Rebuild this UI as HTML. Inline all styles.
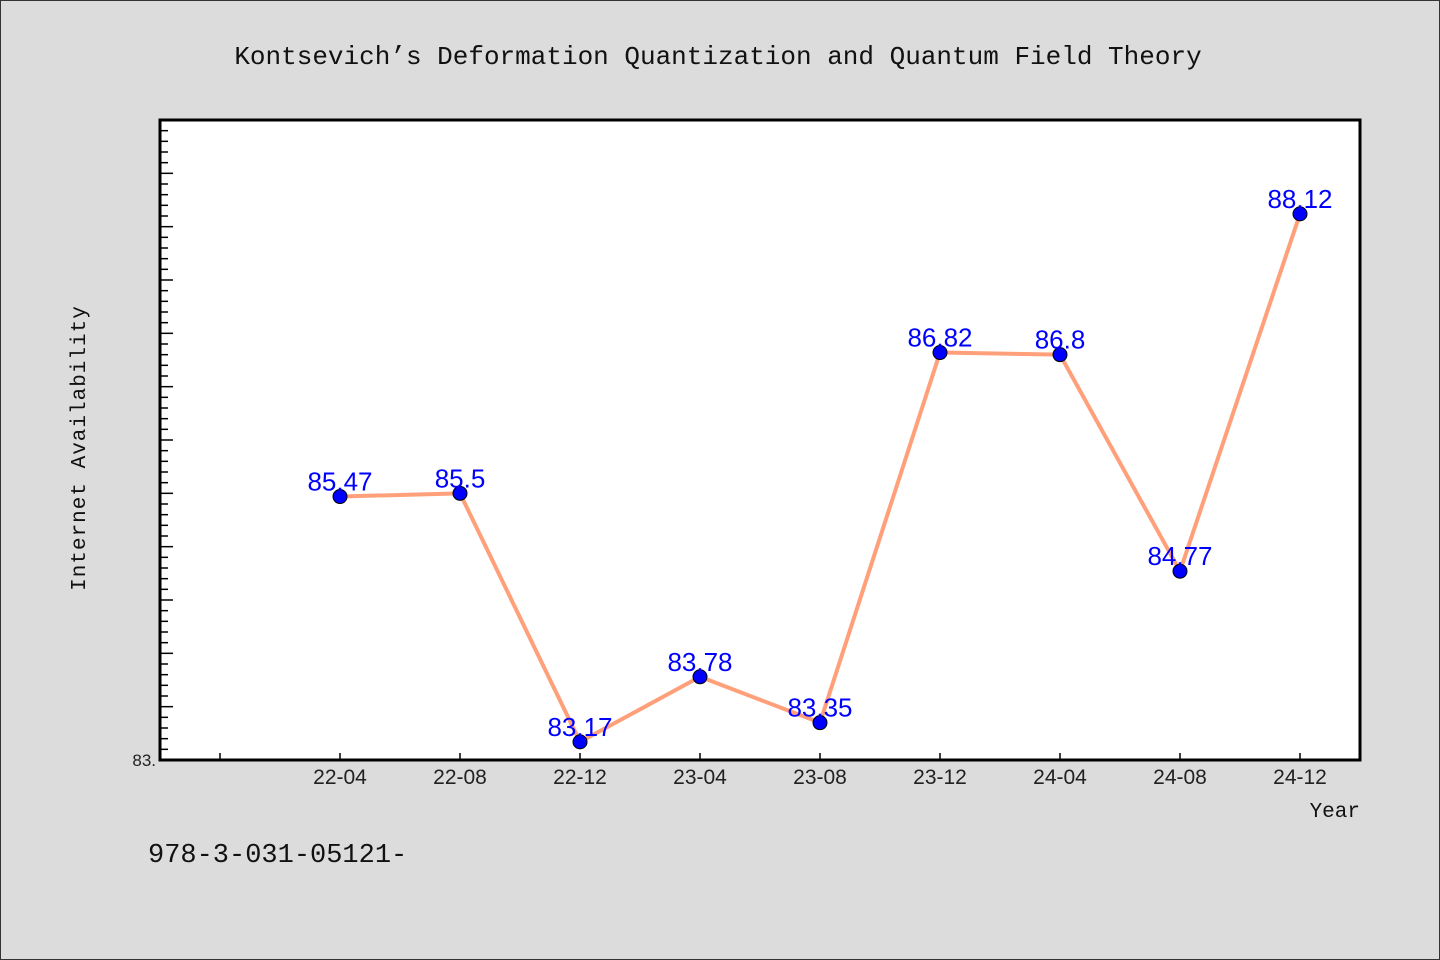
<!DOCTYPE html>
<html><head><meta charset="utf-8"><style>
html,body{margin:0;padding:0;background:#dcdcdc;}
svg{display:block;font-family:"Liberation Sans","Noto Sans CJK SC",sans-serif;}
</style></head><body>
<svg width="1440" height="960" viewBox="0 0 1440 960">
<rect x="0.5" y="0.5" width="1439" height="959" fill="#dcdcdc" stroke="#333"/>
<text x="718" y="64" text-anchor="middle" font-family="Liberation Mono, monospace" font-size="26" fill="#111">Kontsevich’s Deformation Quantization and Quantum Field Theory</text>
<rect x="160" y="120" width="1200" height="640" fill="#fff"/>
<g id="axes"></g>
<g id="series"></g>
<rect x="160" y="120" width="1200" height="640" fill="none" stroke="#000" stroke-width="3"/>
<text x="85" y="448" transform="rotate(-90 85 448)" text-anchor="middle" font-family="Liberation Mono, monospace" font-size="21" fill="#111" letter-spacing="1">Internet Availability</text>
<text x="1360" y="817" text-anchor="end" font-family="Liberation Mono, monospace" font-size="21" fill="#111">Year</text>
<text x="148" y="862" font-family="Liberation Mono, monospace" font-size="27" fill="#111">978-3-031-05121-</text>
</svg>
<script>
const categories=["22-04","22-08","22-12","23-04","23-08","23-12","24-04","24-08","24-12"];
const values=[85.47,85.5,83.17,83.78,83.35,86.82,86.8,84.77,88.12];
const valueLabels=["85.47","85.5","83.17","83.78","83.35","86.82","86.8","84.77","88.12"];
const yMin=83, yMax=89;
const NS="http://www.w3.org/2000/svg";
const L=160,R=1360,T=120,B=760;
function x(i){return L+(i+1.5)/ (categories.length+1)*(R-L);}
function y(v){return B-(v-yMin)/(yMax-yMin)*(B-T);}
function mk(tag,attrs,parent){const e=document.createElementNS(NS,tag);for(const k in attrs)e.setAttribute(k,attrs[k]);parent.appendChild(e);return e;}
const axes=document.getElementById('axes'), ser=document.getElementById('series');
for(let k=0;k<=Math.round((yMax-yMin)*10);k++){
  const v=yMin+k/10, yy=y(v), major=k%5===0;
  const t=mk('line',{x1:L,x2:L+(major?13:8),y1:yy,y2:yy,stroke:'#000','stroke-width':1.5},axes);
  
  
}
const yl=mk('text',{x:156,y:B+6,'text-anchor':'end','font-size':17,fill:'#222'},axes);
yl.textContent="83.";


for(let i=-1;i<categories.length;i++){
  const t=mk('line',{x1:x(i),x2:x(i),y1:B,y2:B-7,stroke:'#000','stroke-width':1.5},axes);
  
  
  if(i>=0){
    const lb=mk('text',{x:x(i),y:B+24,'text-anchor':'middle','font-size':21,fill:'#222'},axes);
    lb.textContent=categories[i];
    
    
  }
}
const pl=mk('polyline',{points:values.map((v,i)=>x(i)+','+y(v)).join(' '),fill:'none',stroke:'#ffa07a','stroke-width':4,'stroke-linejoin':'round'},ser);


values.forEach((v,i)=>{
  const c=mk('circle',{cx:x(i),cy:y(v),r:7,fill:'#0000ff',stroke:'#000','stroke-width':1},ser);
  
  
  const t=mk('text',{x:x(i),y:y(v)-6,'text-anchor':'middle','font-size':26,fill:'#0000ff'},ser);
  t.textContent=valueLabels[i];
  
  
});
</script>
</body></html>
